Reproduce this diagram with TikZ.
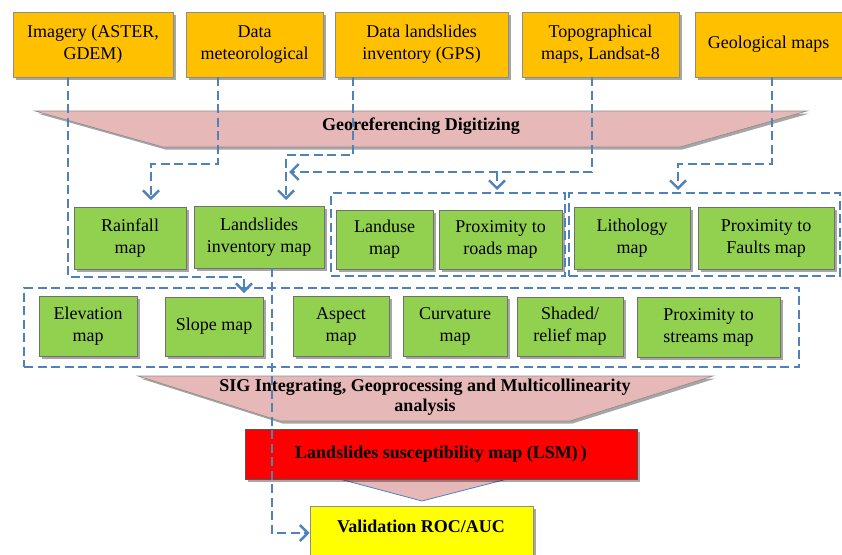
\documentclass[tikz,border=0pt]{standalone}
\usepackage{fontspec}
\setmainfont{Liberation Serif}
\usetikzlibrary{arrows.meta,shadows}

\definecolor{srcfill}{HTML}{FFC000}
\definecolor{mapfill}{HTML}{92D050}
\definecolor{funnel}{HTML}{E6B9B8}
\definecolor{lsmred}{HTML}{FF0000}
\definecolor{valyellow}{HTML}{FFFF00}
\definecolor{flowblue}{HTML}{4F81BD}
\definecolor{edgegray}{HTML}{8C8C8C}

\tikzset{
  x=1pt, y=-1pt,
  txt/.style={font=\fontsize{18}{22}\selectfont, align=center, inner sep=0pt},
  boxshadow/.style={drop shadow={shadow xshift=2.5pt, shadow yshift=-2.5pt, opacity=0.35, fill=black}},
  srcbox/.style={txt, fill=srcfill, draw=edgegray, line width=0.8pt, boxshadow},
  mapbox/.style={txt, fill=mapfill, draw=edgegray!80!black, line width=0.8pt, boxshadow},
  funnelshape/.style={fill=funnel, draw=edgegray, line width=0.6pt, boxshadow},
  group/.style={draw=flowblue, line width=2.8pt, dash pattern=on 9pt off 4.5pt, inner sep=0pt},
  flow/.style={draw=flowblue, line width=2.8pt, dash pattern=on 9pt off 4.5pt},
  tip/.style={-{Straight Barb[length=8pt,width=16pt,line width=2.4pt]}},
  boldtxt/.style={txt, font=\fontsize{18}{20}\selectfont\bfseries},
}

% box of given corners: \boxat{name}{style}{x1}{y1}{x2}{y2}{text}
\newcommand{\boxat}[7]{%
  \node[#2, minimum width={#5-#3}, minimum height={#6-#4}] (#1)
    at ({(#3+#5)/2},{(#4+#6)/2}) {#7};}

\begin{document}
\begin{tikzpicture}
\useasboundingbox (0,0) rectangle (842,554);
\clip (0,0) rectangle (842,554);
\fill[white] (0,0) rectangle (842,554);

% ---------- data sources ----------
\boxat{imagery}{srcbox}{13}{12}{173}{77}{Imagery (ASTER,\\GDEM)}
\boxat{meteo}{srcbox}{186}{12}{323}{77}{Data\\meteorological}
\boxat{gps}{srcbox}{335}{12}{508}{77}{Data landslides\\inventory (GPS)}
\boxat{topo}{srcbox}{522}{12}{679}{77}{Topographical\\maps, Landsat-8}
\boxat{geol}{srcbox}{695}{12}{842}{77}{Geological maps}

% ---------- first funnel ----------
\path[funnelshape] (35,111) -- (807,111) -- (680,147) -- (163,147) -- cycle;
\node[boldtxt] (georef) at (421,126) {Georeferencing Digitizing};

% ---------- thematic maps, first row ----------
\boxat{rain}{mapbox}{74}{207}{186}{269}{Rainfall\\map}
\boxat{invmap}{mapbox}{194}{206}{324}{268}{Landslides\\inventory map}
\boxat{landuse}{mapbox}{336}{210}{433}{269}{Landuse\\map}
\boxat{roads}{mapbox}{439}{210}{562}{269}{Proximity to\\roads map}
\boxat{litho}{mapbox}{574}{207}{690}{269}{Lithology\\map}
\boxat{faults}{mapbox}{698}{207}{834}{269}{Proximity to\\Faults map}

% ---------- thematic maps, second row ----------
\boxat{elev}{mapbox}{39}{296}{137}{356}{Elevation\\map}
\boxat{slope}{mapbox}{165}{297}{263}{356}{Slope map}
\boxat{aspect}{mapbox}{293}{296}{389}{356}{Aspect\\map}
\boxat{curv}{mapbox}{403}{296}{507}{356}{Curvature\\map}
\boxat{shaded}{mapbox}{517}{297}{623}{356}{Shaded/\\relief map}
\boxat{streams}{mapbox}{637}{297}{780}{357}{Proximity to\\streams map}

% ---------- dashed groupings ----------
\boxat{grpA}{group}{331}{193}{565}{276}{}
\boxat{grpB}{group}{569}{193}{840}{276}{}
\boxat{grpC}{group}{24}{288}{799}{367}{}

% ---------- second funnel ----------
\path[funnelshape] (138,376) -- (713,376) -- (570,421) -- (280,421) -- cycle;
\node[boldtxt] (sig) at (425,397)
  {SIG Integrating, Geoprocessing and Multicollinearity\\analysis};

% ---------- result and validation ----------
\path[fill=funnel, draw=flowblue, line width=0.8pt] (332,477) -- (515,477) -- (422,501) -- cycle;
\boxat{lsm}{txt, fill=lsmred, draw=edgegray!60!black, line width=0.6pt, boxshadow}{245}{429}{637}{479}%
  {\raisebox{3pt}{\bfseries Landslides susceptibility map (LSM)\,)}}
\boxat{valid}{txt, fill=valyellow, draw=edgegray, line width=0.8pt, boxshadow}{310}{506}{533}{562}{}
\node[boldtxt] (validtxt) at (421,526) {Validation ROC/AUC};

% ---------- connectors ----------
\coordinate (c1a) at (68,277);
\coordinate (c1b) at (244,293);
\draw[flow, tip] (imagery.south -| c1a) -- (c1a) -| (c1b);

\coordinate (c2a) at (218,164);
\coordinate (c2b) at (151,200);
\draw[flow, tip] (meteo.south -| c2a) -- (c2a) -| (c2b);

\coordinate (c3a) at (353,155);
\coordinate (c3b) at (286,200);
\draw[flow, tip] (gps.south -| c3a) -- (c3a) -| (c3b);

\coordinate (c4a) at (592,172);
\coordinate (c4b) at (289,172);
\coordinate (c4c) at (497,190);
\draw[flow, tip] (topo.south -| c4a) -- (c4a) -- (c4b);
\draw[flow, tip] (c4c |- c4a) -- (c4c);

\coordinate (c5a) at (772,164);
\coordinate (c5b) at (678,190);
\draw[flow, tip] (geol.south -| c5a) -- (c5a) -| (c5b);

\coordinate (c6a) at (272,533);
\draw[flow, tip] (invmap.south -| c6a) -- (c6a) -- (valid.west |- c6a);
\end{tikzpicture}
\end{document}
